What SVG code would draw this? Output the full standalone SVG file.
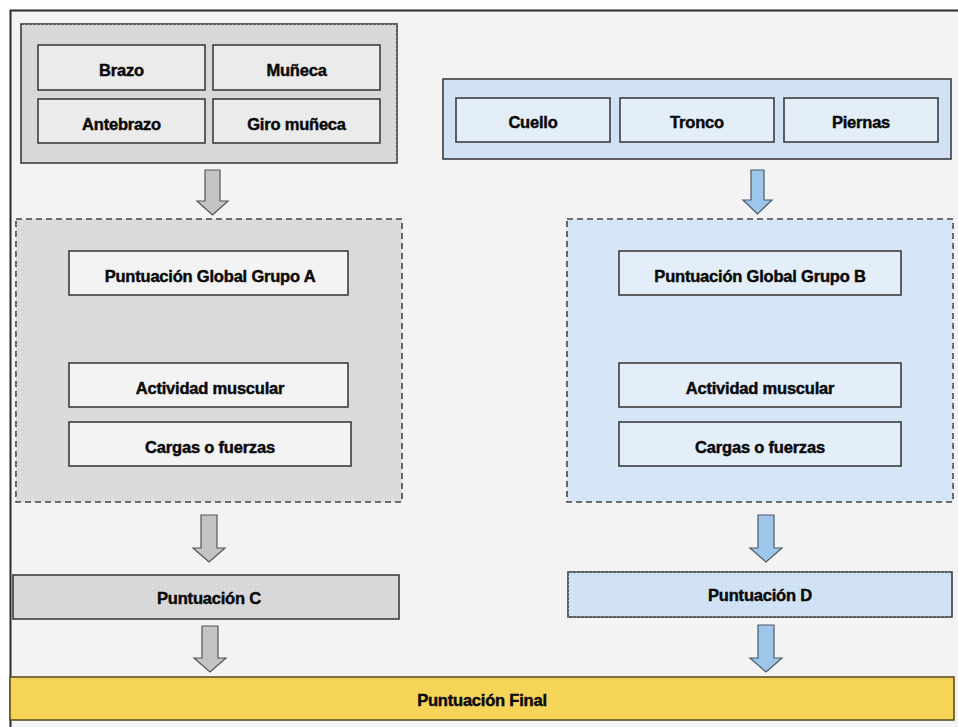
<svg xmlns="http://www.w3.org/2000/svg" width="958" height="727" viewBox="0 0 958 727">
<defs>
<pattern id="dots" width="4" height="4" patternUnits="userSpaceOnUse">
<rect x="0" y="0" width="1" height="1" fill="#ffffff" fill-opacity="0.35"/>
</pattern>
</defs>
<style>
.t{font-family:"Liberation Sans",Arial,sans-serif;font-weight:bold;font-size:16.5px;fill:#0a0a0a;stroke:#0a0a0a;stroke-width:0.45;text-anchor:middle;dominant-baseline:central;letter-spacing:-0.2px}
.box{stroke:#3c3c3c;stroke-width:1.6}
.gcont{fill:#d7d7d7}
.ginner{fill:#ebebeb}
.bcont{fill:#cfe1f4}
.binner{fill:#e4eef9}
.dash{stroke:#444;stroke-width:1.6;stroke-dasharray:6 4}
.wbox{fill:#f3f3f3}
.ga{fill:#c4c4c4;stroke:#555;stroke-width:1.2}
.ba{fill:#9ec5ea;stroke:#4a5a6a;stroke-width:1.2}
</style>
<rect x="0" y="0" width="958" height="727" fill="#ffffff"/>
<rect x="10" y="10" width="948" height="717" fill="#f3f3f3"/>
<path d="M10.5 727 V10.5 H958" fill="none" stroke="#2a2a2a" stroke-width="2"/>

<g id="grupoA">
<rect class="box gcont" x="21" y="24" width="376" height="139"/>
<rect x="21" y="24" width="376" height="139" fill="url(#dots)"/>
</g>
<g id="brazo"><rect class="box ginner" x="38" y="45" width="167" height="45"/><text class="t" x="121.5" y="70">Brazo</text></g>
<g id="muneca"><rect class="box ginner" x="213" y="45" width="167" height="45"/><text class="t" x="296.5" y="70">Muñeca</text></g>
<g id="antebrazo"><rect class="box ginner" x="38" y="99" width="167" height="44"/><text class="t" x="121.5" y="124">Antebrazo</text></g>
<g id="giro"><rect class="box ginner" x="213" y="99" width="167" height="44"/><text class="t" x="296.5" y="124">Giro muñeca</text></g>

<g id="grupoB">
<rect class="box bcont" x="443" y="79" width="508" height="80"/>
<rect x="443" y="79" width="508" height="80" fill="url(#dots)"/>
</g>
<g id="cuello"><rect class="box binner" x="456" y="98" width="154" height="44"/><text class="t" x="533" y="122">Cuello</text></g>
<g id="tronco"><rect class="box binner" x="620" y="98" width="154" height="44"/><text class="t" x="697" y="122">Tronco</text></g>
<g id="piernas"><rect class="box binner" x="784" y="98" width="154" height="44"/><text class="t" x="861" y="122">Piernas</text></g>

<g id="bloqueA">
<rect class="dash" x="16" y="219" width="386" height="283" fill="#dadada"/>
<rect x="16" y="219" width="386" height="283" fill="url(#dots)"/>
</g>
<g id="globalA"><rect class="box wbox" x="69" y="251" width="279" height="44"/><text class="t" x="210" y="276">Puntuación Global Grupo A</text></g>
<g id="actA"><rect class="box wbox" x="69" y="363" width="279" height="44"/><text class="t" x="210" y="388">Actividad muscular</text></g>
<g id="cargasA"><rect class="box wbox" x="69" y="422" width="282" height="44"/><text class="t" x="210" y="447">Cargas o fuerzas</text></g>

<g id="bloqueB">
<rect class="dash" x="567" y="219" width="386" height="283" fill="#d3e5f7"/>
<rect x="567" y="219" width="386" height="283" fill="url(#dots)"/>
</g>
<g id="globalB"><rect class="box binner" x="619" y="251" width="282" height="44"/><text class="t" x="760" y="276">Puntuación Global Grupo B</text></g>
<g id="actB"><rect class="box binner" x="619" y="363" width="282" height="44"/><text class="t" x="760" y="388">Actividad muscular</text></g>
<g id="cargasB"><rect class="box binner" x="619" y="422" width="282" height="44"/><text class="t" x="760" y="447">Cargas o fuerzas</text></g>

<g id="puntC"><rect class="box gcont" x="13" y="575" width="386" height="44"/><rect x="13" y="575" width="386" height="44" fill="url(#dots)"/><text class="t" x="209" y="598">Puntuación C</text></g>
<g id="puntD"><rect class="box bcont" x="568" y="572" width="384" height="45"/><rect x="568" y="572" width="384" height="45" fill="url(#dots)"/><text class="t" x="760" y="595">Puntuación D</text></g>

<g id="final"><rect x="10" y="677" width="944" height="43" fill="#f6d458" stroke="#5e5020" stroke-width="1.6"/><text class="t" x="482" y="700">Puntuación Final</text></g>

<g id="connectors">
<path class="ga" d="M205 170 H220 V201 H228 L212.5 215 L197 201 H205 Z"/>
<path class="ba" d="M751 170 H764 V200 H772 L757.5 214 L743 200 H751 Z"/>
<path class="ga" d="M201 515 H217 V548 H225 L209 562 L193 548 H201 Z"/>
<path class="ba" d="M758 515 H774 V548 H782 L766 562 L750 548 H758 Z"/>
<path class="ga" d="M202 626 H218 V658 H226 L210 672 L194 658 H202 Z"/>
<path class="ba" d="M758 625 H774 V658 H782 L766 672 L750 658 H758 Z"/>
</g>
</svg>
